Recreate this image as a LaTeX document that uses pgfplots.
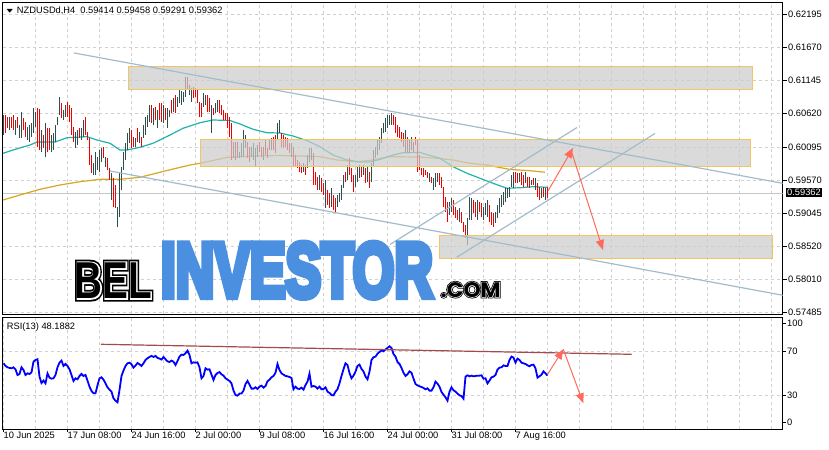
\documentclass[border=0pt]{standalone}
\usepackage{pgfplots}
\pgfplotsset{compat=1.18}
\usepackage{pgfplotstable}
\usepackage{fontspec}
\setmainfont{Liberation Sans}
\newfontfamily\wmheavy{Liberation Sans}[FakeBold=9]
\newfontfamily\wmouter{Liberation Sans}[FakeBold=12]
\newfontfamily\wmmid{Liberation Sans}[FakeBold=5]
\newfontfamily\popouter{Poppins}[FakeBold=12]
\newfontfamily\popmid{Poppins}[FakeBold=5]
\newfontfamily\popfont{Poppins}
\usetikzlibrary{arrows.meta}
\definecolor{bullc}{HTML}{2F4F4F}
\definecolor{bearc}{HTML}{F00000}
\definecolor{maA}{HTML}{20B2AA}
\definecolor{maB}{HTML}{DAA520}
\definecolor{chan}{HTML}{A3BCCB}
\definecolor{boxfill}{HTML}{CCCCCC}
\definecolor{boxedge}{HTML}{F2C462}
\definecolor{arr}{HTML}{FF6A5C}
\definecolor{gridc}{HTML}{D0D0D0}
\definecolor{wmblue}{HTML}{4A8FE0}
\definecolor{rsitr}{HTML}{A34A4A}
\newcommand{\lbl}{\fontsize{9.3bp}{11bp}\selectfont}

% bullish bars: each bar = (index, low), (index, high), break
\pgfplotstableread[row sep=\\]{
i p\\
0 0.60283\\0 0.60599\\0 nan\\
3 0.60362\\3 0.60567\\3 nan\\
6 0.60283\\6 0.60520\\6 nan\\
8 0.60236\\8 0.60441\\8 nan\\
9 0.60236\\9 0.60646\\9 nan\\
12 0.60204\\12 0.60409\\12 nan\\
13 0.60172\\13 0.60441\\13 nan\\
14 0.60251\\14 0.60473\\14 nan\\
15 0.60315\\15 0.60710\\15 nan\\
16 0.60409\\16 0.60646\\16 nan\\
19 0.60014\\19 0.60362\\19 nan\\
21 0.59935\\21 0.60473\\21 nan\\
24 0.60014\\24 0.60283\\24 nan\\
25 0.60046\\25 0.60315\\25 nan\\
26 0.60172\\26 0.60441\\26 nan\\
27 0.60441\\27 0.60567\\27 nan\\
28 0.60599\\28 0.60883\\28 nan\\
30 0.60520\\30 0.60678\\30 nan\\
31 0.60567\\31 0.60757\\31 nan\\
36 0.60078\\36 0.60330\\36 nan\\
37 0.60125\\37 0.60362\\37 nan\\
39 0.60204\\39 0.60394\\39 nan\\
40 0.60251\\40 0.60520\\40 nan\\
45 0.59651\\45 0.59841\\45 nan\\
46 0.59651\\46 0.60014\\46 nan\\
47 0.59730\\47 0.59935\\47 nan\\
48 0.59698\\48 0.60046\\48 nan\\
49 0.59856\\49 0.60078\\49 nan\\
51 0.59777\\51 0.59935\\51 nan\\
54 0.59256\\54 0.59683\\54 nan\\
57 0.58829\\57 0.59145\\57 nan\\
58 0.58987\\58 0.59683\\58 nan\\
59 0.59414\\59 0.59777\\59 nan\\
60 0.59730\\60 0.60014\\60 nan\\
61 0.59888\\61 0.60157\\61 nan\\
62 0.60046\\62 0.60315\\62 nan\\
63 0.60157\\63 0.60394\\63 nan\\
66 0.60093\\66 0.60236\\66 nan\\
68 0.60157\\68 0.60330\\68 nan\\
70 0.60236\\70 0.60441\\70 nan\\
71 0.60283\\71 0.60567\\71 nan\\
72 0.60409\\72 0.60599\\72 nan\\
73 0.60488\\73 0.60757\\73 nan\\
75 0.60441\\75 0.60710\\75 nan\\
77 0.60394\\77 0.60678\\77 nan\\
80 0.60473\\80 0.60757\\80 nan\\
82 0.60394\\82 0.60710\\82 nan\\
83 0.60567\\83 0.60678\\83 nan\\
85 0.60646\\85 0.60868\\85 nan\\
87 0.60725\\87 0.60883\\87 nan\\
88 0.60789\\88 0.60994\\88 nan\\
89 0.60757\\89 0.60978\\89 nan\\
90 0.60804\\90 0.60962\\90 nan\\
91 0.60883\\91 0.61199\\91 nan\\
93 0.60915\\93 0.61073\\93 nan\\
94 0.60804\\94 0.61026\\94 nan\\
100 0.60725\\100 0.60947\\100 nan\\
101 0.60757\\101 0.60915\\101 nan\\
104 0.60315\\104 0.60757\\104 nan\\
106 0.60631\\106 0.60789\\106 nan\\
107 0.60646\\107 0.60836\\107 nan\\
116 0.59888\\116 0.60172\\116 nan\\
118 0.59920\\118 0.60014\\118 nan\\
119 0.59935\\119 0.60157\\119 nan\\
120 0.59935\\120 0.60362\\120 nan\\
121 0.60078\\121 0.60283\\121 nan\\
124 0.59935\\124 0.60093\\124 nan\\
125 0.59888\\125 0.60157\\125 nan\\
126 0.59777\\126 0.60078\\126 nan\\
127 0.59935\\127 0.60125\\127 nan\\
130 0.59888\\130 0.60093\\130 nan\\
134 0.60046\\134 0.60236\\134 nan\\
137 0.60204\\137 0.60473\\137 nan\\
138 0.60315\\138 0.60520\\138 nan\\
144 0.59935\\144 0.60157\\144 nan\\
150 0.59698\\150 0.59841\\150 nan\\
152 0.59762\\152 0.59967\\152 nan\\
153 0.59856\\153 0.60078\\153 nan\\
154 0.59888\\154 0.60078\\154 nan\\
158 0.59414\\158 0.59651\\158 nan\\
161 0.59130\\161 0.59572\\161 nan\\
164 0.59145\\164 0.59446\\164 nan\\
167 0.59145\\167 0.59335\\167 nan\\
168 0.59224\\168 0.59367\\168 nan\\
169 0.59256\\169 0.59493\\169 nan\\
170 0.59446\\170 0.59651\\170 nan\\
172 0.59572\\172 0.59809\\172 nan\\
176 0.59461\\176 0.59651\\176 nan\\
177 0.59540\\177 0.59777\\177 nan\\
178 0.59604\\178 0.59809\\178 nan\\
180 0.59651\\180 0.59809\\180 nan\\
182 0.59540\\182 0.59777\\182 nan\\
184 0.59540\\184 0.59841\\184 nan\\
185 0.59777\\185 0.60046\\185 nan\\
186 0.59920\\186 0.60093\\186 nan\\
187 0.59967\\187 0.60204\\187 nan\\
188 0.60046\\188 0.60251\\188 nan\\
189 0.60157\\189 0.60394\\189 nan\\
190 0.60315\\190 0.60473\\190 nan\\
191 0.60330\\191 0.60552\\191 nan\\
192 0.60394\\192 0.60599\\192 nan\\
193 0.60441\\193 0.60599\\193 nan\\
194 0.60441\\194 0.60631\\194 nan\\
201 0.60014\\201 0.60362\\201 nan\\
203 0.59999\\203 0.60204\\203 nan\\
204 0.60046\\204 0.60251\\204 nan\\
213 0.59540\\213 0.59683\\213 nan\\
215 0.59414\\215 0.59604\\215 nan\\
216 0.59461\\216 0.59683\\216 nan\\
217 0.59540\\217 0.59683\\217 nan\\
223 0.59019\\223 0.59224\\223 nan\\
224 0.59066\\224 0.59288\\224 nan\\
228 0.58908\\228 0.59130\\228 nan\\
232 0.58545\\232 0.58972\\232 nan\\
233 0.58940\\233 0.59303\\233 nan\\
234 0.58940\\234 0.59288\\234 nan\\
237 0.58940\\237 0.59256\\237 nan\\
240 0.58940\\240 0.59145\\240 nan\\
241 0.59019\\241 0.59209\\241 nan\\
242 0.58987\\242 0.59256\\242 nan\\
246 0.58893\\246 0.59066\\246 nan\\
247 0.58972\\247 0.59177\\247 nan\\
248 0.59051\\248 0.59288\\248 nan\\
249 0.59145\\249 0.59335\\249 nan\\
250 0.59177\\250 0.59382\\250 nan\\
251 0.59224\\251 0.59446\\251 nan\\
252 0.59288\\252 0.59446\\252 nan\\
253 0.59303\\253 0.59461\\253 nan\\
254 0.59461\\254 0.59651\\254 nan\\
255 0.59446\\255 0.59698\\255 nan\\
258 0.59540\\258 0.59683\\258 nan\\
261 0.59525\\261 0.59698\\261 nan\\
264 0.59493\\264 0.59572\\264 nan\\
266 0.59414\\266 0.59604\\266 nan\\
269 0.59288\\269 0.59446\\269 nan\\
271 0.59256\\271 0.59446\\271 nan\\
}\bulltab

% bearish bars: each bar = (index, low), (index, high), break
\pgfplotstableread[row sep=\\]{
i p\\
1 0.60315\\1 0.60599\\1 nan\\
2 0.60394\\2 0.60567\\2 nan\\
4 0.60394\\4 0.60567\\4 nan\\
5 0.60362\\5 0.60599\\5 nan\\
7 0.60394\\7 0.60567\\7 nan\\
10 0.60362\\10 0.60552\\10 nan\\
11 0.60251\\11 0.60488\\11 nan\\
17 0.60093\\17 0.60710\\17 nan\\
18 0.60046\\18 0.60694\\18 nan\\
20 0.60078\\20 0.60283\\20 nan\\
22 0.60014\\22 0.60394\\22 nan\\
23 0.60046\\23 0.60394\\23 nan\\
29 0.60552\\29 0.60789\\29 nan\\
32 0.60567\\32 0.60804\\32 nan\\
33 0.60488\\33 0.60757\\33 nan\\
34 0.60283\\34 0.60710\\34 nan\\
35 0.60172\\35 0.60409\\35 nan\\
38 0.60236\\38 0.60394\\38 nan\\
41 0.60283\\41 0.60567\\41 nan\\
42 0.60204\\42 0.60330\\42 nan\\
43 0.59809\\43 0.60236\\43 nan\\
44 0.59683\\44 0.59967\\44 nan\\
50 0.59920\\50 0.60093\\50 nan\\
52 0.59730\\52 0.59920\\52 nan\\
53 0.59572\\53 0.59762\\53 nan\\
55 0.59145\\55 0.59604\\55 nan\\
56 0.59130\\56 0.59493\\56 nan\\
64 0.60078\\64 0.60362\\64 nan\\
65 0.60093\\65 0.60251\\65 nan\\
67 0.60172\\67 0.60394\\67 nan\\
69 0.60093\\69 0.60251\\69 nan\\
74 0.60473\\74 0.60757\\74 nan\\
76 0.60520\\76 0.60725\\76 nan\\
78 0.60520\\78 0.60789\\78 nan\\
79 0.60488\\79 0.60789\\79 nan\\
81 0.60520\\81 0.60710\\81 nan\\
84 0.60631\\84 0.60836\\84 nan\\
86 0.60631\\86 0.60915\\86 nan\\
92 0.60994\\92 0.61199\\92 nan\\
95 0.60868\\95 0.61041\\95 nan\\
96 0.60883\\96 0.61026\\96 nan\\
97 0.60789\\97 0.60994\\97 nan\\
98 0.60567\\98 0.60804\\98 nan\\
99 0.60567\\99 0.60789\\99 nan\\
102 0.60646\\102 0.60915\\102 nan\\
103 0.60646\\103 0.60868\\103 nan\\
105 0.60599\\105 0.60710\\105 nan\\
108 0.60631\\108 0.60836\\108 nan\\
109 0.60599\\109 0.60757\\109 nan\\
110 0.60520\\110 0.60678\\110 nan\\
111 0.60520\\111 0.60631\\111 nan\\
112 0.60394\\112 0.60631\\112 nan\\
113 0.60251\\113 0.60567\\113 nan\\
114 0.59888\\114 0.60473\\114 nan\\
115 0.59920\\115 0.60172\\115 nan\\
117 0.59920\\117 0.60172\\117 nan\\
122 0.59920\\122 0.60172\\122 nan\\
123 0.59856\\123 0.60093\\123 nan\\
128 0.60014\\128 0.60172\\128 nan\\
129 0.59935\\129 0.60093\\129 nan\\
131 0.59967\\131 0.60204\\131 nan\\
132 0.59920\\132 0.60078\\132 nan\\
133 0.60046\\133 0.60204\\133 nan\\
135 0.60046\\135 0.60251\\135 nan\\
136 0.59999\\136 0.60283\\136 nan\\
139 0.60093\\139 0.60315\\139 nan\\
140 0.60078\\140 0.60283\\140 nan\\
141 0.60093\\141 0.60251\\141 nan\\
142 0.60046\\142 0.60236\\142 nan\\
143 0.59999\\143 0.60157\\143 nan\\
145 0.59777\\145 0.60093\\145 nan\\
146 0.59777\\146 0.59967\\146 nan\\
147 0.59762\\147 0.59888\\147 nan\\
148 0.59698\\148 0.59856\\148 nan\\
149 0.59683\\149 0.59809\\149 nan\\
151 0.59651\\151 0.59809\\151 nan\\
155 0.59493\\155 0.59999\\155 nan\\
156 0.59493\\156 0.59698\\156 nan\\
157 0.59414\\157 0.59619\\157 nan\\
159 0.59382\\159 0.59604\\159 nan\\
160 0.59335\\160 0.59525\\160 nan\\
162 0.59177\\162 0.59414\\162 nan\\
163 0.59130\\163 0.59367\\163 nan\\
165 0.59098\\165 0.59335\\165 nan\\
166 0.59066\\166 0.59288\\166 nan\\
171 0.59540\\171 0.59698\\171 nan\\
173 0.59651\\173 0.59920\\173 nan\\
174 0.59540\\174 0.59762\\174 nan\\
175 0.59382\\175 0.59651\\175 nan\\
179 0.59619\\179 0.59777\\179 nan\\
181 0.59525\\181 0.59762\\181 nan\\
183 0.59446\\183 0.59698\\183 nan\\
195 0.60441\\195 0.60599\\195 nan\\
196 0.60315\\196 0.60567\\196 nan\\
197 0.60251\\197 0.60441\\197 nan\\
198 0.60236\\198 0.60409\\198 nan\\
199 0.60172\\199 0.60330\\199 nan\\
200 0.60093\\200 0.60315\\200 nan\\
202 0.60014\\202 0.60251\\202 nan\\
205 0.60014\\205 0.60172\\205 nan\\
206 0.60125\\206 0.60251\\206 nan\\
207 0.59698\\207 0.60204\\207 nan\\
208 0.59730\\208 0.59967\\208 nan\\
209 0.59651\\209 0.59762\\209 nan\\
210 0.59619\\210 0.59762\\210 nan\\
211 0.59651\\211 0.59730\\211 nan\\
212 0.59604\\212 0.59698\\212 nan\\
214 0.59525\\214 0.59619\\214 nan\\
218 0.59493\\218 0.59683\\218 nan\\
219 0.59446\\219 0.59619\\219 nan\\
220 0.59145\\220 0.59461\\220 nan\\
221 0.59066\\221 0.59303\\221 nan\\
222 0.58908\\222 0.59224\\222 nan\\
225 0.59019\\225 0.59256\\225 nan\\
226 0.58972\\226 0.59145\\226 nan\\
227 0.58940\\227 0.59098\\227 nan\\
229 0.58893\\229 0.59066\\229 nan\\
230 0.58750\\230 0.58908\\230 nan\\
231 0.58656\\231 0.58861\\231 nan\\
235 0.59051\\235 0.59256\\235 nan\\
236 0.58987\\236 0.59224\\236 nan\\
238 0.59066\\238 0.59224\\238 nan\\
239 0.58987\\239 0.59209\\239 nan\\
243 0.58908\\243 0.59177\\243 nan\\
244 0.58861\\244 0.59066\\244 nan\\
245 0.58829\\245 0.59051\\245 nan\\
256 0.59525\\256 0.59698\\256 nan\\
257 0.59525\\257 0.59683\\257 nan\\
259 0.59493\\259 0.59698\\259 nan\\
260 0.59461\\260 0.59651\\260 nan\\
262 0.59461\\262 0.59619\\262 nan\\
263 0.59446\\263 0.59619\\263 nan\\
265 0.59493\\265 0.59604\\265 nan\\
267 0.59303\\267 0.59525\\267 nan\\
268 0.59256\\268 0.59461\\268 nan\\
270 0.59303\\270 0.59461\\270 nan\\
272 0.59291\\272 0.59458\\272 nan\\
}\beartab

\pgfplotstableread{
i p
-0.25 0.59994
4.75 0.60046
13.25 0.60125
16.75 0.60172
25.75 0.60172
31.75 0.60240
41.75 0.60256
46.75 0.60204
53.25 0.60152
58.25 0.60046
61.75 0.60046
68.25 0.60089
74.75 0.60152
83.25 0.60283
89.75 0.60389
98.25 0.60477
104.75 0.60520
113.25 0.60512
118.25 0.60457
124.75 0.60373
131.75 0.60319
138.25 0.60315
144.75 0.60267
151.75 0.60193
158.25 0.60098
164.75 0.59967
171.75 0.59888
178.25 0.59856
183.25 0.59856
188.25 0.59899
194.75 0.59967
199.75 0.60003
208.25 0.60006
218.25 0.59915
224.75 0.59782
231.75 0.59678
238.25 0.59599
244.75 0.59520
251.75 0.59441
258.25 0.59450
264.75 0.59466
271.75 0.59457
}\maAtab

\pgfplotstableread{
i p
-0.25 0.59256
8.25 0.59335
18.25 0.59425
28.25 0.59493
38.25 0.59545
48.25 0.59583
58.25 0.59583
68.25 0.59615
81.75 0.59722
93.25 0.59809
98.25 0.59836
111.75 0.59928
124.75 0.59951
138.25 0.59959
148.25 0.59951
158.25 0.59940
166.75 0.59888
176.75 0.59861
184.75 0.59888
193.25 0.59940
208.25 0.59935
218.25 0.59911
224.75 0.59888
233.25 0.59836
241.75 0.59809
253.25 0.59738
263.25 0.59719
270.75 0.59694
}\maBtab

\pgfplotstableread{
i v
0 59.4
1 57.0
2 55.8
3 55.2
4 54.9
5 55.8
6 54.0
7 48.8
8 49.7
9 55.8
10 53.4
11 48.8
12 50.3
13 49.7
14 51.2
15 60.9
16 62.5
17 63.1
18 47.3
19 41.5
20 43.7
21 41.2
22 50.3
23 46.4
24 45.5
25 45.8
26 48.8
27 55.8
28 60.0
29 61.9
30 57.0
31 58.8
32 57.0
33 54.0
34 48.8
35 43.4
36 45.8
37 44.9
38 47.9
39 49.7
40 47.9
41 48.8
42 43.7
43 38.2
44 34.3
45 32.2
46 32.2
47 39.4
48 45.8
49 46.7
50 44.6
51 41.2
52 37.6
53 35.5
54 33.7
55 27.6
56 25.5
57 24.0
58 35.2
59 47.9
60 52.8
61 57.0
62 59.4
63 60.0
64 58.5
65 55.5
66 57.3
67 59.7
68 58.5
69 57.0
70 59.4
71 62.5
72 64.0
73 65.2
74 66.1
75 65.2
76 66.1
77 64.3
78 63.7
79 62.8
80 65.2
81 63.1
82 61.2
83 60.6
84 61.9
85 60.9
86 57.9
87 61.5
88 65.5
89 67.3
90 67.0
91 68.5
92 70.9
93 67.0
94 59.4
95 60.3
96 60.0
97 60.3
98 55.8
99 45.8
100 47.9
101 54.9
102 53.7
103 54.0
104 49.1
105 44.3
106 48.8
107 50.6
108 51.5
109 49.4
110 48.2
111 45.8
112 44.6
113 43.4
114 41.2
115 34.6
116 30.6
117 30.0
118 31.9
119 31.9
120 34.6
121 40.6
122 43.4
123 40.0
124 36.4
125 36.4
126 37.6
127 36.1
128 38.2
129 39.1
130 37.3
131 38.8
132 43.1
133 44.6
134 46.7
135 47.9
136 50.9
137 58.8
138 53.4
139 50.3
140 49.1
141 47.9
142 47.6
143 47.0
144 46.1
145 35.8
146 38.2
147 36.4
148 36.1
149 37.3
150 35.5
151 39.7
152 42.8
153 50.0
154 38.2
155 38.8
156 38.2
157 36.4
158 38.2
159 35.8
160 36.1
161 37.6
162 33.7
163 32.5
164 30.6
165 30.3
166 33.7
167 35.8
168 41.2
169 47.9
170 54.0
171 59.4
172 57.9
173 50.6
174 45.8
175 48.2
176 51.9
177 57.0
178 58.2
179 54.3
180 52.1
181 47.3
182 44.9
183 51.9
184 62.5
185 64.9
186 65.5
187 68.2
188 69.7
189 71.2
190 70.3
191 72.1
192 73.4
193 74.9
194 73.4
195 67.9
196 65.5
197 60.6
198 58.8
199 55.2
200 50.9
201 47.9
202 49.4
203 52.1
204 50.9
205 45.5
206 40.6
207 39.4
208 38.5
209 37.9
210 37.0
211 35.8
212 36.7
213 34.6
214 34.6
215 37.6
216 42.8
217 40.9
218 38.2
219 33.4
220 31.0
221 28.5
222 25.5
223 33.7
224 37.6
225 34.9
226 33.7
227 31.9
228 30.3
229 29.7
230 27.3
231 47.3
232 48.5
233 47.6
234 48.2
235 47.6
236 47.9
237 48.2
238 48.2
239 48.5
240 45.5
241 45.8
242 41.2
243 43.7
244 46.7
245 47.3
246 48.8
247 53.7
248 55.5
249 55.8
250 57.6
251 57.0
252 57.0
253 62.5
254 65.5
255 64.6
256 60.0
257 63.7
258 62.5
259 60.0
260 59.4
261 58.8
262 57.6
263 56.7
264 57.9
265 58.2
266 54.9
267 46.4
268 47.6
269 49.1
270 52.1
271 50.3
272 48.2
}\rsi

\begin{document}
\begin{tikzpicture}
\path[use as bounding box] (0bp,0bp) rectangle (829bp,450bp);

% ---------------- main price panel ----------------
\begin{axis}[
  at={(2.5bp,136bp)}, anchor=south west, scale only axis,
  width=780bp, height=312bp,
  xmin=-0.5, xmax=389.5, ymin=0.574548, ymax=0.623844,
  clip mode=individual,
  axis line style={line width=0.8bp, black},
  xtick={16,32,...,384}, xticklabels={}, major x tick style={draw=none},
  xmajorgrids, ymajorgrids,
  grid style={gridc, dash pattern=on 3bp off 3bp, line width=0.7bp},
  ytick={0.57485,0.58010,0.58520,0.59045,0.59570,0.60095,0.60620,0.61145,0.61670,0.62195},
  yticklabels={0.57485,0.58010,0.58520,0.59045,0.59570,0.60095,0.60620,0.61145,0.61670,0.62195},
  ytick pos=right, yticklabel pos=right, tick align=outside,
  major tick length=4bp,
  major y tick style={black, line width=0.6bp},
  yticklabel style={font=\lbl, anchor=west, inner sep=0pt, xshift=1.5bp},
]
\addplot[gray!45, line width=0.8bp, forget plot] coordinates {(-0.5,0.59362)(389.5,0.59362)};
\addplot[maB, line width=1.2bp] table[x=i,y=p]{\maBtab};
\addplot[maA, line width=1.2bp] table[x=i,y=p]{\maAtab};
\addplot[bullc, line width=1bp, unbounded coords=jump, mark=none] table[x=i, y=p]{\bulltab};
\addplot[bearc, line width=1bp, unbounded coords=jump, mark=none] table[x=i, y=p]{\beartab};
% zones
\draw[boxedge, line width=1bp, fill=boxfill, fill opacity=0.72] (axis cs:62.25,0.61005) rectangle (axis cs:374.4,0.61368);
\draw[boxedge, line width=1bp, fill=boxfill, fill opacity=0.72] (axis cs:98.25,0.59782) rectangle (axis cs:373.6,0.60204);
\draw[boxedge, line width=1bp, fill=boxfill, fill opacity=0.72] (axis cs:217.9,0.58335) rectangle (axis cs:384.4,0.58698);
% channel lines
\addplot[chan, line width=1.2bp] coordinates {(35.25,0.61579)(390,0.59517)};
\addplot[chan, line width=1.2bp] coordinates {(53.25,0.59714)(390,0.57749)};
\addplot[chan, line width=1.2bp] coordinates {(193.25,0.58553)(286.75,0.60401)};
\addplot[chan, line width=1.2bp] coordinates {(226.6,0.58351)(325.75,0.60307)};
% forecast arrows
\addplot[arr, line width=1bp, -{Triangle[length=10bp,width=8bp]}] coordinates {(272.25,0.59398)(284.75,0.60078)};
\addplot[arr, line width=1bp, -{Triangle[length=10bp,width=8bp]}] coordinates {(283.75,0.60046)(299.75,0.58466)};
\end{axis}

% ---------------- RSI panel ----------------
\begin{axis}[
  at={(2.5bp,21bp)}, anchor=south west, scale only axis,
  width=780bp, height=112bp,
  xmin=-0.5, xmax=389.5, ymin=-0.27, ymax=101.5,
  clip mode=individual,
  axis line style={line width=0.8bp, black},
  xtick={0,32,...,256},
  xticklabels={10 Jun 2025,17 Jun 08:00,24 Jun 16:00,2 Jul 00:00,9 Jul 08:00,16 Jul 16:00,24 Jul 00:00,31 Jul 08:00,7 Aug 16:00},
  extra x ticks={288,320,352,384}, extra x tick labels={},
  extra x tick style={major tick length=0pt},
  minor xtick={16,48,...,368},
  xmajorgrids, xminorgrids, ymajorgrids,
  grid style={gridc, dash pattern=on 3bp off 3bp, line width=0.7bp},
  minor grid style={gridc, dash pattern=on 3bp off 3bp, line width=0.7bp},
  xtick pos=bottom, ytick pos=right, yticklabel pos=right,
  tick align=outside, major tick length=3bp, minor tick length=0pt,
  tick style={black, line width=0.6bp},
  ytick={30,70}, yticklabels={30,70},
  extra y ticks={5.5,96.1}, extra y tick labels={0,100},
  extra y tick style={grid=none},
  xticklabel style={font=\lbl, anchor=north west, inner sep=0pt},
  yticklabel style={font=\lbl, anchor=west, inner sep=0pt, xshift=1.5bp},
]
\addplot[blue, line width=1.8bp] table[x=i,y=v]{\rsi};
\addplot[rsitr, line width=1.2bp] coordinates {(48.75,76.7)(314.1,67.6)};
\addplot[arr, line width=1bp, -{Triangle[length=10bp,width=8bp]}] coordinates {(272.1,49.5)(279.9,72.2)};
\addplot[arr, line width=1bp, -{Triangle[length=10bp,width=8bp]}] coordinates {(279.9,72.2)(289.9,23.1)};
\end{axis}

% ---------------- texts ----------------
\fill[black] (6.7bp,441bp) -- (12.7bp,441bp) -- (9.7bp,437.3bp) -- cycle;
\node[anchor=base west, inner sep=0pt, font=\lbl] at (16.8bp,436bp) {NZDUSDd,H4\hspace{5bp}0.59414 0.59458 0.59291 0.59362};
\node[anchor=base west, inner sep=0pt, font=\lbl] at (6.7bp,120.5bp) {RSI(13) 48.1882};
\node[anchor=west, fill=black, text=white, font=\lbl, inner xsep=1.5bp, inner ysep=1.2bp] at (785.5bp,257.5bp) {0.59362};

% ---------------- watermark ----------------
\node[anchor=south west, inner sep=0pt, text=black] at (74.7bp,151.3bp) {\resizebox{77.3bp}{35.7bp}{\wmouter\bfseries BEL}};
\node[anchor=south west, inner sep=0pt, text=white] at (74.7bp,151.3bp) {\resizebox{77.3bp}{35.7bp}{\wmmid\bfseries BEL}};
\node[anchor=south west, inner sep=0pt, text=black] at (74.7bp,151.3bp) {\resizebox{77.3bp}{35.7bp}{\bfseries BEL}};
\node[anchor=south west, inner sep=0pt, text=wmblue] at (160.7bp,152.3bp) {\resizebox{272bp}{53.7bp}{\wmheavy\bfseries INVESTOR}};
\node[anchor=south west, inner sep=0pt, text=black] at (440.5bp,152.5bp) {\resizebox{60bp}{15bp}{\popouter\bfseries .COM}};
\node[anchor=south west, inner sep=0pt, text=white] at (440.5bp,152.5bp) {\resizebox{60bp}{15bp}{\popmid\bfseries .COM}};
\node[anchor=south west, inner sep=0pt, text=black] at (440.5bp,152.5bp) {\resizebox{60bp}{15bp}{\popfont\bfseries .COM}};
\end{tikzpicture}
\end{document}
